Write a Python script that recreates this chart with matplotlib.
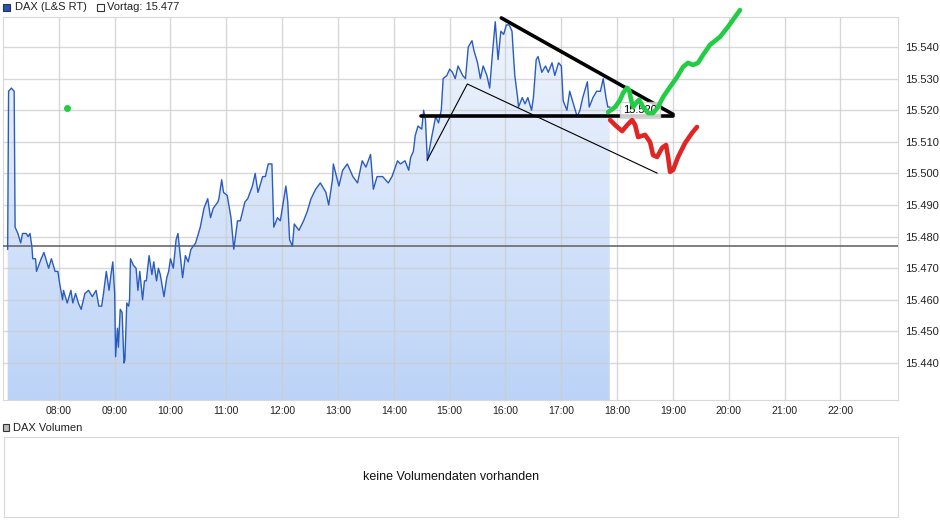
import numpy as np
import matplotlib.pyplot as plt
from matplotlib.patches import Rectangle
from matplotlib.colors import LinearSegmentedColormap

zeiten = ["07:05", "07:06", "07:09", "07:12", "07:13", "07:16", "07:19", "07:21", "07:25", "07:27",
          "07:29", "07:31", "07:32", "07:35", "07:36", "07:41", "07:44", "07:46", "07:49", "07:52",
          "07:56", "07:59", "08:01", "08:04", "08:05", "08:09", "08:13", "08:15", "08:18", "08:21",
          "08:24", "08:28", "08:32", "08:36", "08:40", "08:43", "08:46", "08:48", "08:51", "08:54",
          "08:56", "08:58", "09:00", "09:01", "09:03", "09:04", "09:06", "09:08", "09:10", "09:11",
          "09:13", "09:15", "09:16", "09:17", "09:20", "09:23", "09:25", "09:27", "09:30", "09:32",
          "09:34", "09:37", "09:40", "09:42", "09:45", "09:47", "09:49", "09:53", "09:56", "09:58",
          "10:00", "10:03", "10:06", "10:08", "10:13", "10:16", "10:19", "10:22", "10:27", "10:32",
          "10:36", "10:40", "10:43", "10:46", "10:51", "10:52", "10:55", "10:57", "11:01", "11:05",
          "11:08", "11:12", "11:15", "11:20", "11:23", "11:28", "11:31", "11:34", "11:39", "11:42",
          "11:45", "11:49", "11:51", "11:55", "11:58", "12:04", "12:06", "12:08", "12:11", "12:13",
          "12:18", "12:23", "12:27", "12:31", "12:36", "12:41", "12:47", "12:50", "12:54", "12:55",
          "13:01", "13:05", "13:10", "13:16", "13:21", "13:26", "13:30", "13:35", "13:38", "13:42",
          "13:48", "13:54", "13:58", "14:04", "14:07", "14:12", "14:16", "14:18", "14:21", "14:23",
          "14:26", "14:30", "14:32", "14:34", "14:36", "14:41", "14:45", "14:48", "14:51", "14:53",
          "14:57", "15:00", "15:03", "15:06", "15:09", "15:14", "15:17", "15:20", "15:24", "15:26",
          "15:30", "15:33", "15:36", "15:40", "15:43", "15:46", "15:49", "15:52", "15:55", "15:58",
          "16:01", "16:04", "16:07", "16:08", "16:10", "16:13", "16:14", "16:18", "16:21", "16:24",
          "16:28", "16:30", "16:33", "16:35", "16:39", "16:43", "16:46", "16:50", "16:53", "16:57",
          "17:00", "17:02", "17:06", "17:09", "17:13", "17:17", "17:20", "17:23", "17:28", "17:30",
          "17:34", "17:38", "17:42", "17:45", "17:48", "17:50", "17:52"]
kurse = [15476, 15526, 15527, 15526, 15483, 15481, 15478, 15481, 15481, 15480,
         15481, 15477, 15473, 15473, 15469, 15473, 15475, 15473, 15470, 15473,
         15469, 15469, 15465, 15460, 15463, 15459, 15463, 15459, 15462, 15459,
         15457, 15462, 15463, 15461, 15463, 15458, 15458, 15462, 15469, 15463,
         15468, 15472, 15462, 15442, 15451, 15445, 15457, 15456, 15440, 15441,
         15459, 15458, 15460, 15473, 15471, 15470, 15463, 15469, 15460, 15466,
         15466, 15474, 15468, 15472, 15466, 15470, 15468, 15461, 15467, 15469,
         15473, 15470, 15479, 15481, 15467, 15474, 15472, 15476, 15478, 15483,
         15489, 15492, 15486, 15489, 15491, 15492, 15498, 15494, 15493, 15486,
         15476, 15485, 15485, 15491, 15492, 15496, 15500, 15494, 15499, 15499,
         15503, 15503, 15483, 15486, 15485, 15496, 15491, 15479, 15477, 15484,
         15482, 15485, 15488, 15492, 15495, 15497, 15494, 15490, 15498, 15503,
         15496, 15501, 15503, 15499, 15497, 15504, 15502, 15506, 15495, 15499,
         15499, 15497, 15499, 15504, 15503, 15504, 15501, 15505, 15507, 15512,
         15515, 15514, 15520, 15517, 15504, 15512, 15518, 15516, 15520, 15530,
         15531, 15533, 15532, 15530, 15534, 15531, 15530, 15540, 15542, 15539,
         15535, 15530, 15534, 15531, 15527, 15538, 15548, 15536, 15545, 15544,
         15547, 15547, 15545, 15540, 15531, 15524, 15521, 15524, 15522, 15524,
         15520, 15524, 15536, 15537, 15532, 15534, 15532, 15535, 15531, 15535,
         15534, 15523, 15520, 15526, 15522, 15518, 15520, 15524, 15529, 15521,
         15524, 15526, 15526, 15530, 15524, 15521, 15521]
vortag = 15477

# Eingezeichnete Linien (Stunden als Dezimalzahl, Kurs)
oben_t = [15.925, 19.001]
oben_p = [15549.2, 15518.7]
waag_t = [14.493, 19.001]
waag_p = [15518.3, 15518.3]
duenn_t = [14.601, 15.316, 18.715]
duenn_p = [15504.3, 15528.3, 15500.1]
gruen_t = [17.838, 17.964, 18.053, 18.107, 18.179, 18.214, 18.250, 18.286, 18.339, 18.393,
           18.465, 18.554, 18.644, 18.733, 18.823, 18.948, 19.073, 19.180, 19.270, 19.359,
           19.449, 19.538, 19.663, 19.842, 19.985, 20.200]
gruen_p = [15519.4, 15521.0, 15523.3, 15525.5, 15527.1, 15526.4, 15523.3, 15521.0, 15522.3, 15523.3,
           15521.0, 15519.1, 15519.1, 15521.0, 15524.2, 15527.4, 15530.5, 15533.7, 15535.0, 15534.3,
           15535.0, 15537.5, 15540.7, 15543.2, 15546.4, 15551.7]
rot_t = [17.874, 17.964, 18.089, 18.179, 18.268, 18.322, 18.375, 18.500, 18.590, 18.643,
         18.715, 18.805, 18.876, 18.912, 18.948, 19.002, 19.091, 19.216, 19.341, 19.430]
rot_p = [15516.9, 15515.3, 15513.4, 15515.3, 15516.9, 15515.3, 15511.5, 15512.2, 15509.9, 15505.8,
         15505.2, 15508.1, 15509.0, 15505.2, 15500.5, 15501.1, 15505.2, 15509.6, 15512.8, 15514.7]
punkt_t, punkt_p = 8.143, 15520.7
marke_t, marke_p, marke_text = 18.41, 15520.1, "15.520"

y_ticks = list(range(15440, 15541, 10))
x_ticks = list(range(8, 23))
x_lim = (7.0, 23.03)
y_lim = (15428.3, 15549.5)


def in_stunden(s):
    h, m = s.split(":")
    return int(h) + int(m) / 60


def punkt_format(v):
    return f"{v:,.0f}".replace(",", ".")


t = np.array([in_stunden(z) for z in zeiten])
k = np.array(kurse)

plt.rcParams['font.family'] = ['Liberation Sans', 'DejaVu Sans']
fig = plt.figure(figsize=(9.4, 5.26), dpi=100)
ax = fig.add_axes([3 / 940, 1 - 400 / 526, 895 / 940, 383 / 526])

# Verlauf unter der Kurslinie
verlauf = LinearSegmentedColormap.from_list("verlauf", ["#bcd3f7", "#f0f5fd"])
grad = np.linspace(0, 1, 256).reshape(-1, 1)
img = ax.imshow(grad, cmap=verlauf, origin='lower', aspect='auto',
                extent=[x_lim[0], x_lim[1], y_lim[0], y_lim[1]], zorder=0.2)
flaeche = ax.fill_between(t, k, y_lim[0], color='none')
img.set_clip_path(flaeche.get_paths()[0], transform=ax.transData)

ax.set_xlim(*x_lim)
ax.set_ylim(*y_lim)
ax.set_axisbelow(True)
ax.set_xticks(x_ticks)
ax.set_xticklabels([f"{h:02d}:00" for h in x_ticks])
ax.set_yticks(y_ticks)
ax.set_yticklabels([punkt_format(v) for v in y_ticks])
ax.yaxis.tick_right()
ax.tick_params(axis='both', length=0, labelsize=8, colors='#222222')
ax.tick_params(axis='x', labelsize=7.5, pad=4)
ax.tick_params(axis='y', pad=5)
ax.grid(True, color='#cccccc', lw=1, alpha=0.75)
for s in ax.spines.values():
    s.set_color('#d8d8d8')

ax.axhline(vortag, color='#6a6a6a', lw=1.2, zorder=3)
ax.plot(t, k, color='#2a5cbf', lw=1.0, zorder=4)

# Trendlinien
ax.plot(oben_t, oben_p, color='black', lw=2.6, solid_capstyle='round', zorder=5, clip_on=False)
ax.plot(waag_t, waag_p, color='black', lw=2.6, solid_capstyle='round', zorder=5)
ax.plot(duenn_t, duenn_p, color='black', lw=0.8, zorder=5)
ax.text(marke_t, marke_p, marke_text, fontsize=8, ha='center', va='center', zorder=5.5,
        bbox=dict(boxstyle='square,pad=0.25', fc='white', ec='#cccccc', alpha=0.8))
ax.plot(gruen_t, gruen_p, color='#22cc44', lw=3.3, solid_capstyle='round',
        solid_joinstyle='round', zorder=6, clip_on=False)
ax.plot(rot_t, rot_p, color='#e02525', lw=3.3, solid_capstyle='round',
        solid_joinstyle='round', zorder=6)
ax.plot(punkt_t, punkt_p, 'o', color='#22cc44', ms=4, zorder=6)

# Legende oben
fig.patches.append(Rectangle((3 / 940, 1 - 10.5 / 526), 7 / 940, 7 / 526,
                             transform=fig.transFigure, fc='#2255bb', ec='#333333', lw=0.8))
fig.text(15 / 940, 1 - 7 / 526, "DAX (L&S RT)", va='center', fontsize=8, color='#222222')
fig.patches.append(Rectangle((97 / 940, 1 - 10.5 / 526), 7 / 940, 7 / 526,
                             transform=fig.transFigure, fc='white', ec='#333333', lw=0.8))
fig.text(107 / 940, 1 - 7 / 526, f"Vortag: {punkt_format(vortag)}", va='center',
         fontsize=8, color='#222222')

# Volumen-Bereich
fig.patches.append(Rectangle((3 / 940, 1 - 431 / 526), 6 / 940, 7 / 526,
                             transform=fig.transFigure, fc='#bbbbbb', ec='#333333', lw=0.8))
fig.text(13 / 940, 1 - 428 / 526, "DAX Volumen", va='center', fontsize=8, color='#222222')
ax2 = fig.add_axes([4 / 940, 1 - 517 / 526, 894 / 940, 80 / 526])
ax2.set_xticks([])
ax2.set_yticks([])
for s in ax2.spines.values():
    s.set_color('#d8d8d8')
ax2.text(0.5, 0.5, "keine Volumendaten vorhanden", ha='center', va='center',
         fontsize=9, color='#111111', transform=ax2.transAxes)

fig.savefig("out.png", dpi=100)
